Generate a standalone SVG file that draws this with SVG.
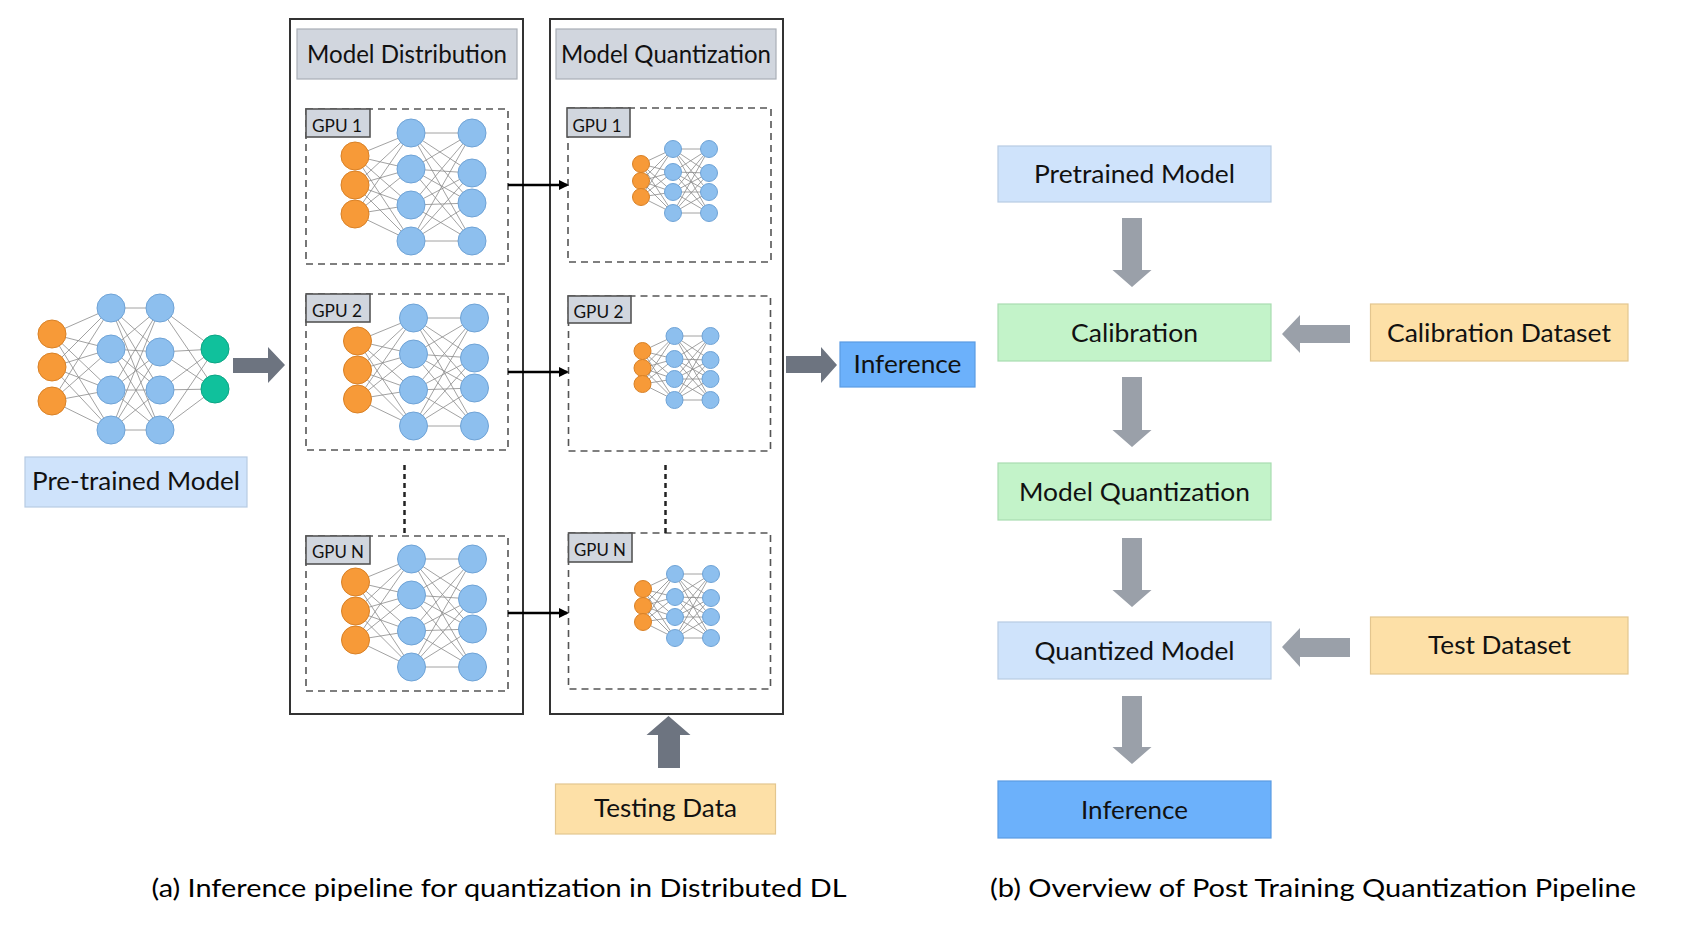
<svg xmlns="http://www.w3.org/2000/svg" xmlns:xlink="http://www.w3.org/1999/xlink" width="1694" height="932" viewBox="0 0 1694 932">
<style>
  .t { font-family: Lato, "Open Sans", "Liberation Sans", sans-serif; fill: #111; }
  .lbl { font-size: 25px; }
  .gpu { font-size: 18px; }
  .cap { font-family: Lato, "Liberation Sans", sans-serif; font-size: 25px; fill: #000; }
  .outer { fill: none; stroke: #333; stroke-width: 2; }
  .hdr { fill: #d1d6de; stroke: #a9aeb6; stroke-width: 1.2; }
  .dash { fill: none; stroke: #555; stroke-width: 1.6; stroke-dasharray: 7 5; }
  .glab { fill: #d1d6de; stroke: #555; stroke-width: 1.6; }
  .or { fill: #f79a38; stroke: #d98126; stroke-width: 1; }
  .bl { fill: #8dbfee; stroke: #6fa3d6; stroke-width: 1; }
  .gr { fill: #10c19c; stroke: #0aa584; stroke-width: 1; }
  .ed { stroke: #8a8a8a; stroke-width: 0.8; fill: none; }
  .lb { fill: #cfe3fb; stroke: #b7cbe3; stroke-width: 1.2; }
  .gn { fill: #c3f3c9; stroke: #a9dcb1; stroke-width: 1.2; }
  .og { fill: #fde0a7; stroke: #e3c68f; stroke-width: 1.2; }
  .inf { fill: #6cb1fb; stroke: #5a9be3; stroke-width: 1.2; }
  .darr { fill: #6d7480; }
  .larr { fill: #9aa0a9; }
  .blk { stroke: #000; stroke-width: 2.5; fill: none; }
  .dot { stroke: #222; stroke-width: 2.5; stroke-dasharray: 5 4; fill: none; }
</style>
<defs>
  <marker id="ah" markerWidth="10" markerHeight="10" refX="8" refY="5" orient="auto" markerUnits="userSpaceOnUse">
    <path d="M0,0 L10,5 L0,10 Z" fill="#000"/>
  </marker>
  <!-- large GPU network, origin at top orange neuron -->
  <g id="bignet">
    <g class="ed">
      <path d="M0,0 L56,-23 M0,0 L56,13 M0,0 L56,49 M0,0 L56,85 M0,29 L56,-23 M0,29 L56,13 M0,29 L56,49 M0,29 L56,85 M0,58 L56,-23 M0,58 L56,13 M0,58 L56,49 M0,58 L56,85"/>
      <path d="M56,-23 L117,-23 M56,-23 L117,17 M56,-23 L117,47 M56,-23 L117,85 M56,13 L117,-23 M56,13 L117,17 M56,13 L117,47 M56,13 L117,85 M56,49 L117,-23 M56,49 L117,17 M56,49 L117,47 M56,49 L117,85 M56,85 L117,-23 M56,85 L117,17 M56,85 L117,47 M56,85 L117,85"/>
    </g>
    <circle class="or" cx="0" cy="0" r="14"/>
    <circle class="or" cx="0" cy="29" r="14"/>
    <circle class="or" cx="0" cy="58" r="14"/>
    <circle class="bl" cx="56" cy="-23" r="14"/>
    <circle class="bl" cx="56" cy="13" r="14"/>
    <circle class="bl" cx="56" cy="49" r="14"/>
    <circle class="bl" cx="56" cy="85" r="14"/>
    <circle class="bl" cx="117" cy="-23" r="14"/>
    <circle class="bl" cx="117" cy="17" r="14"/>
    <circle class="bl" cx="117" cy="47" r="14"/>
    <circle class="bl" cx="117" cy="85" r="14"/>
  </g>
  <!-- small quantized network, origin at top orange neuron -->
  <g id="smallnet">
    <g class="ed">
      <path d="M0,0 L32,-15 M0,0 L32,8 M0,0 L32,28 M0,0 L32,49 M0,17 L32,-15 M0,17 L32,8 M0,17 L32,28 M0,17 L32,49 M0,33 L32,-15 M0,33 L32,8 M0,33 L32,28 M0,33 L32,49"/>
      <path d="M32,-15 L68,-15 M32,-15 L68,9 M32,-15 L68,28 M32,-15 L68,49 M32,8 L68,-15 M32,8 L68,9 M32,8 L68,28 M32,8 L68,49 M32,28 L68,-15 M32,28 L68,9 M32,28 L68,28 M32,28 L68,49 M32,49 L68,-15 M32,49 L68,9 M32,49 L68,28 M32,49 L68,49"/>
    </g>
    <circle class="or" cx="0" cy="0" r="8.5"/>
    <circle class="or" cx="0" cy="17" r="8.5"/>
    <circle class="or" cx="0" cy="33" r="8.5"/>
    <circle class="bl" cx="32" cy="-15" r="8.5"/>
    <circle class="bl" cx="32" cy="8" r="8.5"/>
    <circle class="bl" cx="32" cy="28" r="8.5"/>
    <circle class="bl" cx="32" cy="49" r="8.5"/>
    <circle class="bl" cx="68" cy="-15" r="8.5"/>
    <circle class="bl" cx="68" cy="9" r="8.5"/>
    <circle class="bl" cx="68" cy="28" r="8.5"/>
    <circle class="bl" cx="68" cy="49" r="8.5"/>
  </g>
</defs>

<rect width="1694" height="932" fill="#fff"/>

<!-- Pre-trained network -->
<g id="pretrained-net">
  <g class="ed">
    <path d="M52,334 L111,308 M52,334 L111,349 M52,334 L111,390 M52,334 L111,430 M52,367 L111,308 M52,367 L111,349 M52,367 L111,390 M52,367 L111,430 M52,401 L111,308 M52,401 L111,349 M52,401 L111,390 M52,401 L111,430"/>
    <path d="M111,308 L160,308 M111,308 L160,352 M111,308 L160,390 M111,308 L160,430 M111,349 L160,308 M111,349 L160,352 M111,349 L160,390 M111,349 L160,430 M111,390 L160,308 M111,390 L160,352 M111,390 L160,390 M111,390 L160,430 M111,430 L160,308 M111,430 L160,352 M111,430 L160,390 M111,430 L160,430"/>
    <path d="M160,308 L215,349 M160,308 L215,389 M160,352 L215,349 M160,352 L215,389 M160,390 L215,349 M160,390 L215,389 M160,430 L215,349 M160,430 L215,389"/>
  </g>
  <circle class="or" cx="52" cy="334" r="14"/>
  <circle class="or" cx="52" cy="367" r="14"/>
  <circle class="or" cx="52" cy="401" r="14"/>
  <circle class="bl" cx="111" cy="308" r="14"/>
  <circle class="bl" cx="111" cy="349" r="14"/>
  <circle class="bl" cx="111" cy="390" r="14"/>
  <circle class="bl" cx="111" cy="430" r="14"/>
  <circle class="bl" cx="160" cy="308" r="14"/>
  <circle class="bl" cx="160" cy="352" r="14"/>
  <circle class="bl" cx="160" cy="390" r="14"/>
  <circle class="bl" cx="160" cy="430" r="14"/>
  <circle class="gr" cx="215" cy="349" r="14"/>
  <circle class="gr" cx="215" cy="389" r="14"/>
</g>
<g id="pretrained-label">
  <rect class="lb" x="25" y="457" width="222" height="50"/>
  <text class="t lbl" x="136" y="490" text-anchor="middle" textLength="208" lengthAdjust="spacingAndGlyphs">Pre-trained Model</text>
</g>

<!-- Model Distribution -->
<g id="model-distribution">
  <rect class="outer" x="290" y="19" width="233" height="695"/>
  <rect class="hdr" x="297" y="29" width="220" height="50"/>
  <text class="t lbl" x="407" y="63" text-anchor="middle" textLength="200" lengthAdjust="spacingAndGlyphs">Model Distribution</text>
</g>
<g id="dist-gpu1">
  <rect class="dash" x="306" y="109" width="202" height="155"/>
  <rect class="glab" x="306" y="109" width="64" height="28"/>
  <text class="t gpu" x="312" y="131.5" textLength="50" lengthAdjust="spacingAndGlyphs">GPU 1</text>
  <use xlink:href="#bignet" href="#bignet" transform="translate(355,156)"/>
</g>
<g id="dist-gpu2">
  <rect class="dash" x="306" y="294" width="202" height="156"/>
  <rect class="glab" x="306" y="294" width="64" height="28"/>
  <text class="t gpu" x="312" y="316.5" textLength="50" lengthAdjust="spacingAndGlyphs">GPU 2</text>
  <use xlink:href="#bignet" href="#bignet" transform="translate(357.5,341)"/>
</g>
<g id="dist-gpun">
  <rect class="dash" x="306" y="536" width="202" height="155"/>
  <rect class="glab" x="306" y="536" width="64" height="28"/>
  <text class="t gpu" x="312" y="558" textLength="52" lengthAdjust="spacingAndGlyphs">GPU N</text>
  <use xlink:href="#bignet" href="#bignet" transform="translate(355.5,582)"/>
</g>

<!-- Model Quantization -->
<g id="model-quantization">
  <rect class="outer" x="550" y="19" width="233" height="695"/>
  <rect class="hdr" x="556" y="29" width="220" height="50"/>
  <text class="t lbl" x="666" y="63" text-anchor="middle" textLength="210" lengthAdjust="spacingAndGlyphs">Model Quantization</text>
</g>
<g id="quant-gpu1">
  <rect class="dash" x="568" y="108" width="203" height="154"/>
  <rect class="glab" x="567" y="108" width="63" height="29"/>
  <text class="t gpu" x="572.5" y="131.5" textLength="49" lengthAdjust="spacingAndGlyphs">GPU 1</text>
  <use xlink:href="#smallnet" href="#smallnet" transform="translate(641,164)"/>
</g>
<g id="quant-gpu2">
  <rect class="dash" x="568.5" y="296" width="202" height="155"/>
  <rect class="glab" x="568" y="296" width="63" height="27"/>
  <text class="t gpu" x="573.5" y="318" textLength="50" lengthAdjust="spacingAndGlyphs">GPU 2</text>
  <use xlink:href="#smallnet" href="#smallnet" transform="translate(642.5,351)"/>
</g>
<g id="quant-gpun">
  <rect class="dash" x="568.5" y="533" width="202" height="156"/>
  <rect class="glab" x="568.5" y="533" width="63.5" height="29"/>
  <text class="t gpu" x="574" y="555.5" textLength="52" lengthAdjust="spacingAndGlyphs">GPU N</text>
  <use xlink:href="#smallnet" href="#smallnet" transform="translate(643,589)"/>
</g>

<!-- Left column: Inference and Testing Data -->
<g id="inference-left">
  <rect class="inf" x="840" y="342" width="135" height="45"/>
  <text class="t lbl" x="907.5" y="373" text-anchor="middle" textLength="108" lengthAdjust="spacingAndGlyphs">Inference</text>
</g>
<g id="testing-data">
  <rect class="og" x="555.5" y="784" width="220" height="50"/>
  <text class="t lbl" x="665.5" y="817" text-anchor="middle" textLength="143" lengthAdjust="spacingAndGlyphs">Testing Data</text>
</g>

<!-- Right column -->
<g id="pretrained-model">
  <rect class="lb" x="998" y="146" width="273" height="56"/>
  <text class="t lbl" x="1134.5" y="183" text-anchor="middle" textLength="201" lengthAdjust="spacingAndGlyphs">Pretrained Model</text>
</g>
<g id="calibration">
  <rect class="gn" x="998" y="304" width="273" height="57"/>
  <text class="t lbl" x="1134.5" y="341.5" text-anchor="middle" textLength="127" lengthAdjust="spacingAndGlyphs">Calibration</text>
</g>
<g id="calibration-dataset">
  <rect class="og" x="1370.5" y="304" width="257.5" height="57"/>
  <text class="t lbl" x="1499" y="341.5" text-anchor="middle" textLength="224" lengthAdjust="spacingAndGlyphs">Calibration Dataset</text>
</g>
<g id="model-quantization-r">
  <rect class="gn" x="998" y="463" width="273" height="57"/>
  <text class="t lbl" x="1134.5" y="501" text-anchor="middle" textLength="231" lengthAdjust="spacingAndGlyphs">Model Quantization</text>
</g>
<g id="quantized-model">
  <rect class="lb" x="998" y="622" width="273" height="57"/>
  <text class="t lbl" x="1134.5" y="660" text-anchor="middle" textLength="200" lengthAdjust="spacingAndGlyphs">Quantized Model</text>
</g>
<g id="test-dataset">
  <rect class="og" x="1370.5" y="617" width="257.5" height="57"/>
  <text class="t lbl" x="1499.5" y="653.5" text-anchor="middle" textLength="143" lengthAdjust="spacingAndGlyphs">Test Dataset</text>
</g>
<g id="inference-right">
  <rect class="inf" x="998" y="781" width="273" height="57"/>
  <text class="t lbl" x="1134.5" y="819" text-anchor="middle" textLength="107" lengthAdjust="spacingAndGlyphs">Inference</text>
</g>

<!-- Connectors -->
<g id="connectors">
  <!-- block arrows (left figure) -->
  <path class="darr" d="M233,358 L268,358 L268,347 L285,365 L268,383 L268,373 L233,373 Z"/>
  <path class="darr" d="M786,356 L821,356 L821,347 L837,365 L821,383 L821,373 L786,373 Z"/>
  <path class="darr" d="M658,768 L658,735 L646.5,735 L668.5,716 L690.5,735 L680,735 L680,768 Z"/>
  <!-- GPU to GPU arrows -->
  <line class="blk" x1="508" y1="185" x2="567" y2="185" marker-end="url(#ah)"/>
  <line class="blk" x1="508" y1="372" x2="567" y2="372" marker-end="url(#ah)"/>
  <line class="blk" x1="508" y1="613" x2="567" y2="613" marker-end="url(#ah)"/>
  <!-- ellipsis dotted lines -->
  <line class="dot" x1="404.5" y1="465" x2="404.5" y2="533"/>
  <line class="dot" x1="665.5" y1="465" x2="665.5" y2="533"/>
  <!-- right figure down arrows -->
  <path class="larr" d="M1122,218 L1142,218 L1142,270 L1151.5,270 L1132,287 L1112.5,270 L1122,270 Z"/>
  <path class="larr" d="M1122,377 L1142,377 L1142,430 L1151.5,430 L1132,447 L1112.5,430 L1122,430 Z"/>
  <path class="larr" d="M1122,538 L1142,538 L1142,590 L1151.5,590 L1132,607 L1112.5,590 L1122,590 Z"/>
  <path class="larr" d="M1122,696 L1142,696 L1142,747 L1151.5,747 L1132,764 L1112.5,747 L1122,747 Z"/>
  <!-- right figure left arrows -->
  <path class="larr" d="M1350,325 L1350,343 L1300,343 L1300,353 L1282,334 L1300,315 L1300,325 Z"/>
  <path class="larr" d="M1350,638 L1350,657 L1300,657 L1300,667 L1282,647 L1300,628 L1300,638 Z"/>
</g>

<!-- Captions -->
<text class="cap" x="151.5" y="897" textLength="695" lengthAdjust="spacingAndGlyphs">(a) Inference pipeline for quantization in Distributed DL</text>
<text class="cap" x="990" y="897" textLength="646" lengthAdjust="spacingAndGlyphs">(b) Overview of Post Training Quantization Pipeline</text>
</svg>
